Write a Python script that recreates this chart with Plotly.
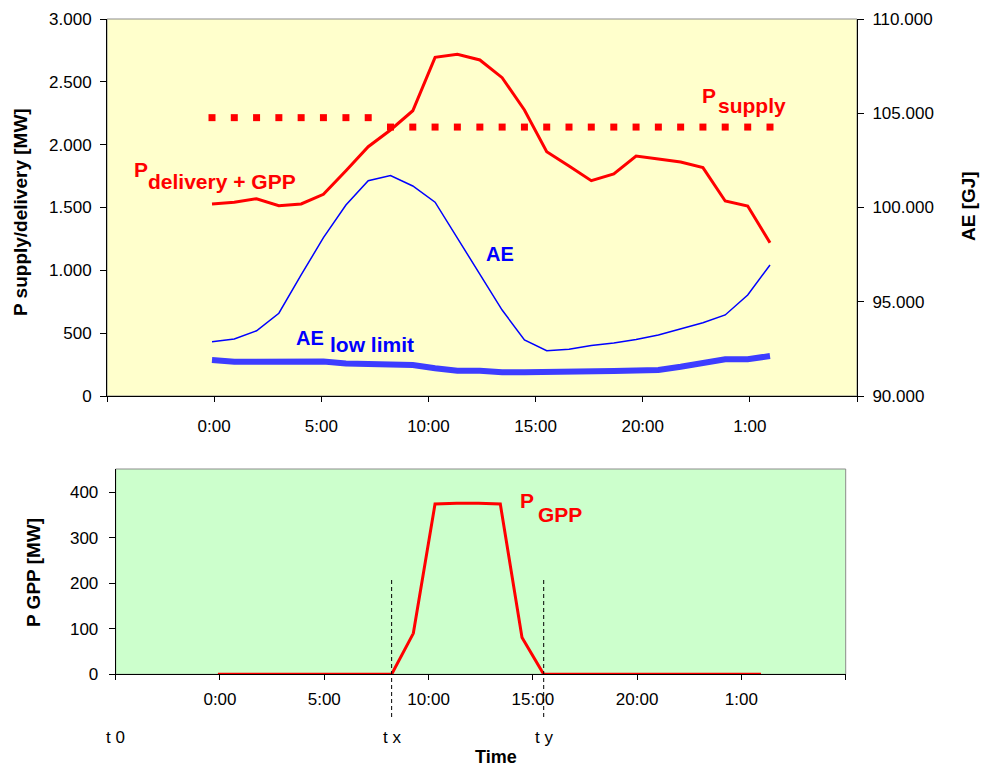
import plotly.graph_objects as go

# ---------------- data ----------------
hours = [-0.1, 0.94, 1.98, 3.02, 4.06, 5.1, 6.15, 7.19, 8.23, 9.27, 10.31, 11.35, 12.4,
         13.44, 14.48, 15.52, 16.56, 17.6, 18.65, 19.69, 20.73, 21.77, 22.81, 23.85,
         24.9, 25.94]
p_delivery_gpp = [1528, 1541, 1570, 1514, 1528, 1605, 1793, 1984, 2117, 2270, 2695, 2719,
                  2674, 2533, 2276, 1944, 1830, 1713, 1767, 1910, 1886, 1862, 1817, 1552,
                  1512, 1220]
p_supply = [2215] * 8 + [2140] * 18
ae = [92880, 93020, 93460, 94390, 96420, 98400, 100130, 101420, 101700, 101140, 100280,
      98370, 96420, 94560, 92970, 92400, 92480, 92680, 92810, 93000, 93240, 93550, 93890,
      94300, 95360, 96950]
ae_low = [91910, 91820, 91820, 91820, 91830, 91830, 91730, 91700, 91620, 91640, 91470,
          91340, 91340, 91260, 91260, 91260, 91260, 91260, 91330, 91350, 91380, 91550,
          91730, 91950, 91950, 92120]
p_gpp = [0, 0, 0, 0, 0, 0, 0, 0, 0, 90, 374, 376, 376, 374, 81, 0, 0, 0, 0, 0, 0, 0, 0,
         0, 0, 0]

x_tickvals = [-5, 0, 5, 10, 15, 20, 25, 30]
x_ticktext = ["", "0:00", "5:00", "10:00", "15:00", "20:00", "1:00", ""]
left_ticks = [0, 500, 1000, 1500, 2000, 2500, 3000]
right_ticks = [90000, 95000, 100000, 105000, 110000]
gpp_ticks = [0, 100, 200, 300, 400]
tx = hours[8]
ty = hours[15]

W, H = 982, 769
FONT = "Liberation Sans, Arial, sans-serif"
RED = "#FF0000"
BLUE = "#0000FF"


def px(x):
    return x / W


def py(y):
    return 1 - y / H


fig = go.Figure()
fig.add_trace(go.Scatter(x=hours, y=p_delivery_gpp, mode="lines",
                         line=dict(color=RED, width=3), xaxis="x", yaxis="y"))
fig.add_trace(go.Scatter(x=hours, y=p_supply, mode="markers",
                         marker=dict(symbol="square", size=7, color=RED),
                         xaxis="x", yaxis="y"))
fig.add_trace(go.Scatter(x=hours, y=ae, mode="lines",
                         line=dict(color=BLUE, width=1.5), xaxis="x", yaxis="y2"))
fig.add_trace(go.Scatter(x=hours, y=ae_low, mode="lines",
                         line=dict(color="#3d3dff", width=6), xaxis="x", yaxis="y2"))
fig.add_trace(go.Scatter(x=hours, y=p_gpp, mode="lines",
                         line=dict(color=RED, width=3), xaxis="x2", yaxis="y3"))

tickfont = dict(family=FONT, size=17, color="#000000")
common_x = dict(range=[-5, 30], tickmode="array", tickvals=x_tickvals, ticktext=x_ticktext,
                showgrid=False, zeroline=False, showline=True, linecolor="#000000",
                linewidth=1, ticks="outside", ticklen=5, tickcolor="#000000",
                tickfont=tickfont, automargin=False)
common_y = dict(showgrid=False, zeroline=False, showline=True, linecolor="#000000",
                ticks="outside", ticklen=6, tickcolor="#000000", tickfont=tickfont,
                automargin=False)

fig.update_layout(
    width=W, height=H,
    margin=dict(l=0, r=0, t=0, b=0, pad=0, autoexpand=False),
    paper_bgcolor="white",
    plot_bgcolor="#FFFFCC",
    showlegend=False,
    separators=",.",
    font=dict(family=FONT, size=17, color="#000000"),
    xaxis=dict(domain=[px(107), px(857)], anchor="y", ticklabelstandoff=10, **common_x),
    yaxis=dict(domain=[py(396), py(19)], anchor="x", range=[0, 3000], tickvals=left_ticks,
               tickformat=",.0f", ticklabelstandoff=5, **common_y),
    yaxis2=dict(overlaying="y", side="right", anchor="x", range=[90000, 110000],
                tickvals=right_ticks, tickformat=",.0f", ticklabelstandoff=5, **common_y),
    xaxis2=dict(domain=[px(115.7), px(845.7)], anchor="y3", ticklabelstandoff=4, **common_x),
    yaxis3=dict(domain=[py(674.3), py(469)], anchor="x2", range=[0, 451], tickvals=gpp_ticks,
                ticklabelstandoff=7, **common_y),
)

# plot-area fills and gray borders
fig.add_shape(type="rect", xref="x domain", yref="y domain", x0=0, x1=1, y0=0, y1=1,
              line=dict(color="#8c8c8c", width=1), fillcolor="rgba(0,0,0,0)", layer="below")
fig.add_shape(type="rect", xref="x2 domain", yref="y3 domain", x0=0, x1=1, y0=0, y1=1,
              line=dict(color="#8c8c8c", width=1), fillcolor="#CCFFCC", layer="below")

# t x / t y dashed markers
for t in (tx, ty):
    fig.add_shape(type="line", xref="x2", yref="paper", x0=t, x1=t, y0=py(717), y1=py(578),
                  line=dict(color="#000000", width=1, dash="4px,3px"))

ann = []


def label(text, x, y, size, color="#000000", bold=True, xanchor="center", angle=0,
          xref="paper"):
    ann.append(dict(text=f"<b>{text}</b>" if bold else text, x=x, y=y, xref=xref,
                    yref="paper", xanchor=xanchor, yanchor="middle", showarrow=False,
                    textangle=angle, font=dict(family=FONT, size=size, color=color)))


# axis titles
label("P supply/delivery [MW]", px(21), py(212), 19, angle=-90)
label("AE [GJ]", px(968), py(206), 19, angle=-90)
label("P GPP [MW]", px(33), py(573), 19, angle=-90)
label("Time", px(496), py(757), 18)
# time markers
label("t 0", -5, py(737), 17, bold=False, xref="x2")
label("t x", tx, py(737), 17, bold=False, xref="x2")
label("t y", ty, py(737), 17, bold=False, xref="x2")
# series labels
label("P", px(708.5), py(95.6), 21, RED)
label("supply", px(716), py(105.6), 21, RED, xanchor="left")
label("P", px(141), py(169.6), 21, RED)
label("delivery + GPP", px(146), py(182), 21, RED, xanchor="left")
label("AE", px(500), py(253.6), 20, BLUE)
label("AE", px(310), py(338), 20, BLUE)
label("low limit", px(328), py(344.3), 21, BLUE, xanchor="left")
label("P", px(526.5), py(500.6), 21, RED)
label("GPP", px(536), py(514.6), 21, RED, xanchor="left")

fig.update_layout(annotations=ann)
# remove the browser's default 8px page margin so the figure fills the window exactly
fig.write_html("out.html",
               config={"displayModeBar": False},
               post_script="document.body.style.margin='0px';"
                           "document.body.style.overflow='hidden';")
